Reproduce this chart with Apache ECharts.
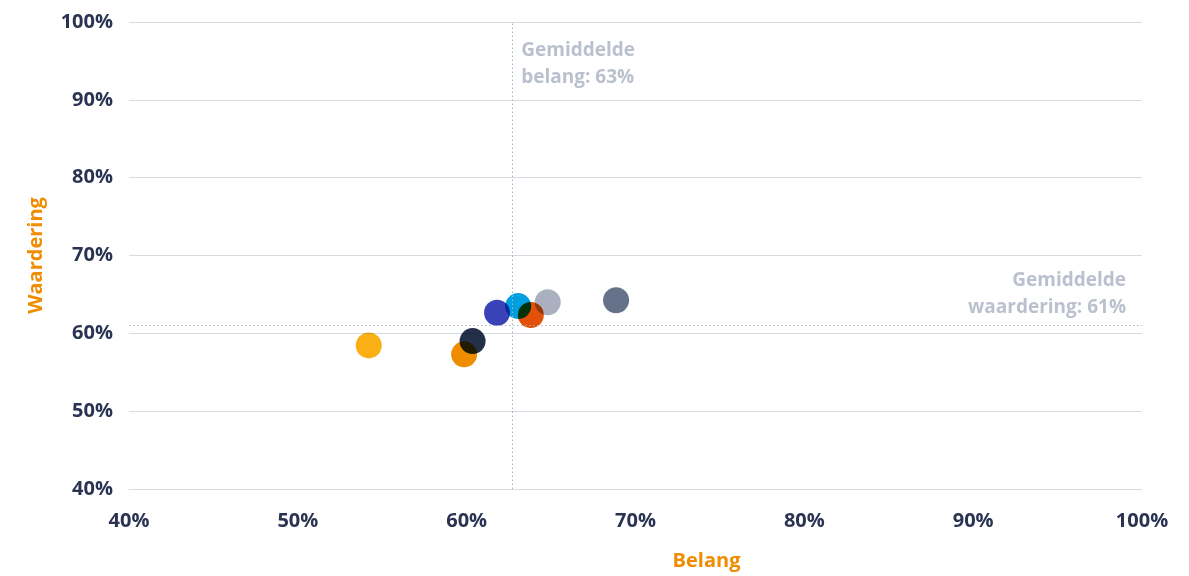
<!DOCTYPE html>
<html>
<head>
<meta charset="utf-8">
<script src="https://cdn.jsdelivr.net/npm/echarts@6/dist/echarts.min.js"></script>
<style>html,body{margin:0;padding:0;background:#fff}#c{width:1189px;height:576px}</style>
</head>
<body>
<div id="c"></div>
<script>
const belang = [54.2, 59.85, 60.35, 61.8, 63.05, 63.8, 64.8, 68.85];
const waardering = [58.45, 57.3, 59.0, 62.65, 63.5, 62.35, 64.0, 64.25];
const dotColors = ['#FAB015', '#F08C00', '#243049', '#3A42B8', '#00A0E0', '#E2500A', '#AAB0C0', '#65728A'];
const meanBelang = 62.7;
const meanWaardering = 61.1;
const xTicks = [40, 50, 60, 70, 80, 90, 100];
const yTicks = [40, 50, 60, 70, 80, 90, 100];
const labelBelang = 'Gemiddelde\nbelang: 63%';
const labelWaardering = 'Gemiddelde\nwaardering: 61%';

const FONT = '"Open Sans", "Noto Sans", sans-serif';
const chart = echarts.init(document.getElementById('c'), null, {renderer: 'canvas'});
const gridColor = '#D6DAE3';
const annColor = '#A9B0C2';

chart.setOption({
  backgroundColor: '#ffffff',
  animation: false,
  grid: {left: 129, right: 47, top: 22, bottom: 86},
  xAxis: {
    type: 'value', min: xTicks[0], max: xTicks[xTicks.length - 1], interval: 10,
    name: 'Belang', nameLocation: 'middle', nameGap: 62,
    nameTextStyle: {color: '#F08C00', fontSize: 20, fontWeight: 'bold', fontFamily: FONT, padding: [0, 0, 0, 142]},
    axisLine: {show: true, lineStyle: {color: gridColor, width: 1}},
    axisTick: {show: false},
    splitLine: {show: false},
    axisLabel: {formatter: '{value}%', color: '#2A3452', fontSize: 20, fontWeight: 'bold', fontFamily: FONT, margin: 22}
  },
  yAxis: {
    type: 'value', min: yTicks[0], max: yTicks[yTicks.length - 1], interval: 10,
    name: 'Waardering', nameLocation: 'middle', nameGap: 83,
    nameTextStyle: {color: '#F08C00', fontSize: 20, fontWeight: 'bold', fontFamily: FONT},
    axisLine: {show: false},
    axisTick: {show: false},
    splitLine: {show: true, lineStyle: {color: gridColor, width: 1}},
    axisLabel: {formatter: '{value}%', color: '#2A3452', fontSize: 20, fontWeight: 'bold', fontFamily: FONT, margin: 16}
  },
  series: [
    {
      type: 'scatter', data: [], silent: true, z: 1,
      markLine: {
        silent: true, symbol: 'none', animation: false,
        label: {show: false},
        lineStyle: {type: [1.5, 2.5], color: annColor, width: 1},
        data: [{xAxis: meanBelang}, {yAxis: meanWaardering}]
      }
    },
    {
      type: 'scatter', z: 3, silent: true, symbolSize: 26, blendMode: 'multiply',
      data: belang.map((b, i) => ({value: [b, waardering[i]], itemStyle: {color: dotColors[i], opacity: 1}}))
    },
    {
      type: 'scatter', z: 4, silent: true, symbolSize: 0, clip: false,
      data: [
        {value: [meanBelang, yTicks[yTicks.length - 1]],
         label: {show: true, formatter: labelBelang, position: [9, 15], align: 'left', verticalAlign: 'top',
                 color: annColor, fontSize: 19, fontWeight: 'bold', fontFamily: FONT, lineHeight: 27}},
        {value: [xTicks[xTicks.length - 1], meanWaardering],
         label: {show: true, formatter: labelWaardering, position: [-16, -4], align: 'right', verticalAlign: 'bottom',
                 color: annColor, fontSize: 19, fontWeight: 'bold', fontFamily: FONT, lineHeight: 27}}
      ]
    }
  ]
});
</script>
</body>
</html>
